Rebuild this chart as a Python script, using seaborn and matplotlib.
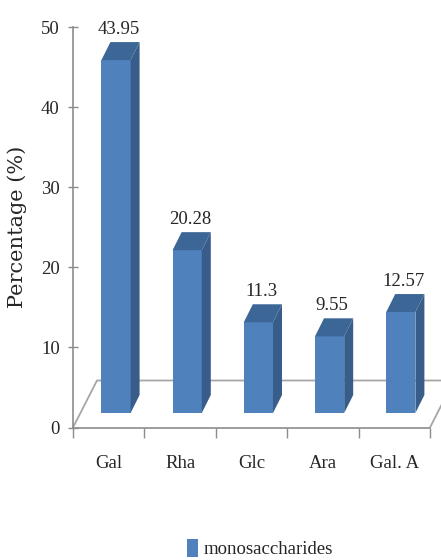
import matplotlib
matplotlib.use("Agg")
import matplotlib.pyplot as plt
from matplotlib.patches import Polygon
import seaborn as sns

categories = ["Gal", "Rha", "Glc", "Ara", "Gal. A"]
values = [43.95, 20.28, 11.3, 9.55, 12.57]
value_labels = ["43.95", "20.28", "11.3", "9.55", "12.57"]
y_ticks = [0, 10, 20, 30, 40, 50]
series_name = "monosaccharides"

FRONT = "#4F81BD"
SIDE = "#385D8A"
TOP = "#3C6696"
AXIS_GRAY = "#8C8C8C"
FLOOR_GRAY = "#A6A6A6"

sns.set_style("white")
plt.rcParams["font.family"] = ["Liberation Serif", "DejaVu Serif"]

fig = plt.figure(figsize=(4.41, 5.6), dpi=100)
W, H = 441.0, 560.0

# value axis with the floor of the 3-D plot
ax = fig.add_axes([73 / W, (H - 427.5) / H, 357 / W, 400.5 / H])
ax.set_xlim(-0.5, 4.5)
ax.set_ylim(0, 50)
ax.patch.set_alpha(0)
for s in ("top", "right"):
    ax.spines[s].set_visible(False)
for s in ("left", "bottom"):
    ax.spines[s].set_color(AXIS_GRAY)
    ax.spines[s].set_linewidth(1.2)

ax.set_yticks(y_ticks)
ax.set_yticklabels([str(t) for t in y_ticks], fontsize=13.5)
ax.tick_params(axis="y", left=True, direction="inout", length=7, width=1,
               color=AXIS_GRAY, pad=6)

ax.set_xticks(range(len(categories)))
ax.set_xticklabels(categories, fontsize=13.5)
ax.tick_params(axis="x", which="major", bottom=True, length=0, pad=20)
ax.set_xticks([i - 0.5 for i in range(len(categories) + 1)], minor=True)
ax.tick_params(axis="x", which="minor", bottom=True, direction="out", length=7,
               width=1, color=AXIS_GRAY)

ax.set_ylabel("Percentage (%)", family="DejaVu Serif", fontsize=15, labelpad=10)

# floor (depth in data units of the value axis)
fdx, fdy = 24 / 71.4, 47 / 8.01
floor = [(-0.5, 0), (-0.5 + fdx, fdy), (4.5 + fdx, fdy), (4.5, 0)]
ax.add_patch(Polygon(floor, closed=False, fill=False, edgecolor=FLOOR_GRAY,
                     linewidth=1.3, clip_on=False, zorder=1))

# bar axes, set back from the front edge of the floor
axb = fig.add_axes([80.4 / W, (H - 413) / H, 356 / W, 401.5 / H])
sns.barplot(x=categories, y=values, color=FRONT, saturation=1, width=0.41,
            ax=axb, label=series_name, edgecolor="none", zorder=3)
if axb.get_legend() is not None:
    axb.get_legend().remove()
axb.set_xlim(-0.5, 4.5)
axb.set_ylim(0, 50)
axb.axis("off")
axb.patch.set_alpha(0)

dx, dy = 9 / 71.2, 18 / 8.03
for p, lab in zip(axb.patches, value_labels):
    x0, w, h = p.get_x(), p.get_width(), p.get_height()
    side = [(x0 + w, 0), (x0 + w + dx, dy), (x0 + w + dx, h + dy), (x0 + w, h)]
    top = [(x0, h), (x0 + w, h), (x0 + w + dx, h + dy), (x0 + dx, h + dy)]
    axb.add_patch(Polygon(side, closed=True, facecolor=SIDE, edgecolor="none",
                          zorder=3, clip_on=False))
    axb.add_patch(Polygon(top, closed=True, facecolor=TOP, edgecolor="none",
                          zorder=3, clip_on=False))
    axb.text(x0 + w / 2 + dx * 0.3, h + dy + 0.5, lab, ha="center", va="bottom",
             fontsize=13.5, clip_on=False)

handles, labels = axb.get_legend_handles_labels()
fig.legend(handles[:1], labels[:1], loc="center", bbox_to_anchor=(0.59, 0.021),
           frameon=False, fontsize=13.5, handlelength=0.6, handleheight=1.1,
           handletextpad=0.3)

fig.savefig("out.png", dpi=100)
